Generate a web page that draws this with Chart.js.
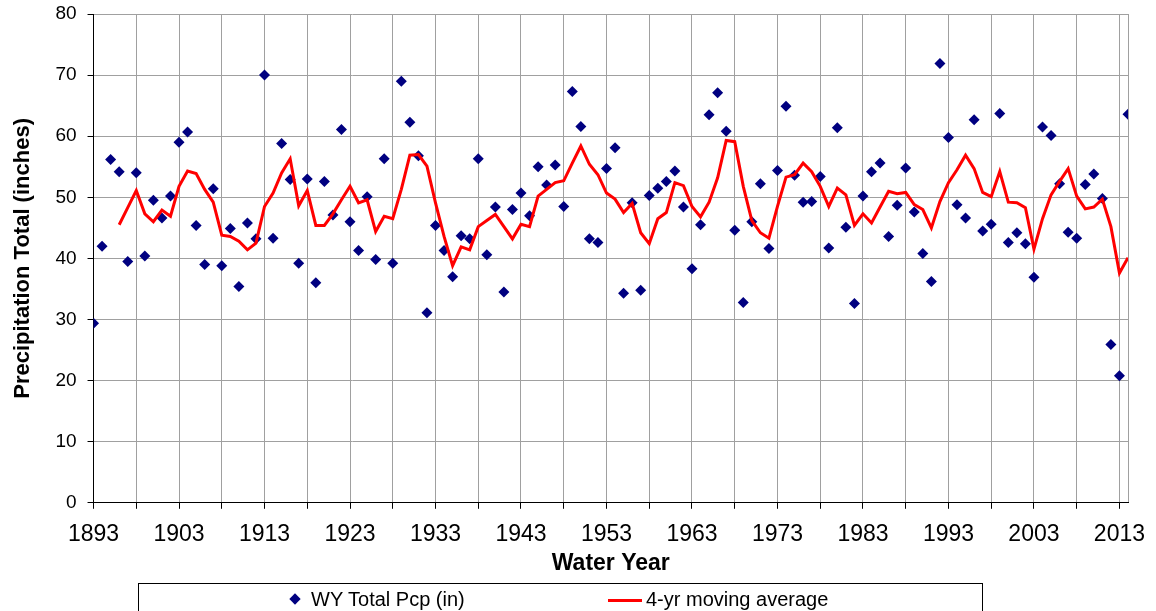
<!DOCTYPE html>
<html>
<head>
<meta charset="utf-8">
<script src="https://cdn.jsdelivr.net/npm/chart.js@4"></script>
<style>
  body { margin: 0; background: #fff; }
  #wrap { position: relative; width: 1156px; height: 611px; overflow: hidden; }
  #legend {
    position: absolute; left: 138px; top: 583px; width: 845px; height: 40px;
    border: 1px solid #000; box-sizing: border-box;
    font-family: "Liberation Sans", Arial, sans-serif; font-size: 20px; color: #000;
  }
  #legend span { position: absolute; }
  .diamond { width: 8px; height: 8px; background: #000080; transform: rotate(45deg); left: 152px; top: 11px; }
  .redline { width: 34px; height: 3px; background: #ff0000; left: 469px; top: 15px; }
  .txt { top: 4px; white-space: nowrap; }
</style>
</head>
<body>
<div id="wrap">
  <canvas id="precipChart" width="1156" height="611"></canvas>
  <div id="legend">
    <span class="diamond"></span><span class="txt" style="left:172px">WY Total Pcp (in)</span>
    <span class="redline"></span><span class="txt" style="left:507px">4-yr moving average</span>
  </div>
</div>
<script>
// water years 1893 - 2014
const years = [
  1893, 1894, 1895, 1896, 1897, 1898, 1899, 1900, 1901, 1902,
  1903, 1904, 1905, 1906, 1907, 1908, 1909, 1910, 1911, 1912,
  1913, 1914, 1915, 1916, 1917, 1918, 1919, 1920, 1921, 1922,
  1923, 1924, 1925, 1926, 1927, 1928, 1929, 1930, 1931, 1932,
  1933, 1934, 1935, 1936, 1937, 1938, 1939, 1940, 1941, 1942,
  1943, 1944, 1945, 1946, 1947, 1948, 1949, 1950, 1951, 1952,
  1953, 1954, 1955, 1956, 1957, 1958, 1959, 1960, 1961, 1962,
  1963, 1964, 1965, 1966, 1967, 1968, 1969, 1970, 1971, 1972,
  1973, 1974, 1975, 1976, 1977, 1978, 1979, 1980, 1981, 1982,
  1983, 1984, 1985, 1986, 1987, 1988, 1989, 1990, 1991, 1992,
  1993, 1994, 1995, 1996, 1997, 1998, 1999, 2000, 2001, 2002,
  2003, 2004, 2005, 2006, 2007, 2008, 2009, 2010, 2011, 2012,
  2013, 2014
];

// WY total precipitation (inches)
const totalPcp = [
  29.4, 42.0, 56.2, 54.2, 39.5, 54.0, 40.4, 49.5, 46.6, 50.2,
  59.0, 60.7, 45.4, 39.0, 51.4, 38.8, 44.9, 35.4, 45.8, 43.2,
  70.0, 43.3, 58.8, 52.9, 39.2, 53.0, 36.0, 52.6, 47.1, 61.1,
  46.0, 41.3, 50.1, 39.8, 56.3, 39.2, 69.0, 62.3, 56.8, 31.1,
  45.4, 41.3, 37.0, 43.7, 43.2, 56.3, 40.6, 48.4, 34.5, 48.0,
  50.7, 47.0, 55.0, 52.0, 55.3, 48.5, 67.3, 61.6, 43.2, 42.6,
  54.7, 58.1, 34.3, 49.1, 34.8, 50.3, 51.5, 52.6, 54.3, 48.4,
  38.3, 45.5, 63.5, 67.1, 60.8, 44.6, 32.8, 46.0, 52.2, 41.6,
  54.4, 64.9, 53.6, 49.2, 49.3, 53.4, 41.7, 61.4, 45.1, 32.6,
  50.2, 54.2, 55.6, 43.6, 48.7, 54.8, 47.6, 40.8, 36.2, 71.9,
  59.8, 48.8, 46.6, 62.7, 44.5, 45.6, 63.7, 42.6, 44.2, 42.4,
  36.9, 61.5, 60.1, 52.2, 44.3, 43.3, 52.1, 53.8, 49.8, 25.9,
  20.8, 63.6
];

// 4-yr moving average (starts 1896)
const movingAvg = [
  null, null, null, 45.5, 48.3, 51.1, 47.3, 46.0, 47.9, 46.9,
  51.8, 54.3, 53.9, 51.3, 49.2, 43.8, 43.6, 42.8, 41.4, 42.5,
  48.5, 50.7, 54.0, 56.3, 48.6, 51.1, 45.4, 45.4, 47.3, 49.6,
  51.8, 49.1, 49.6, 44.4, 46.9, 46.5, 51.3, 56.9, 57.0, 55.1,
  49.1, 43.6, 38.8, 41.9, 41.4, 45.2, 46.2, 47.2, 45.2, 43.2,
  45.6, 45.2, 50.2, 51.3, 52.4, 52.7, 55.6, 58.4, 55.4, 53.7,
  50.7, 49.7, 47.5, 49.0, 44.2, 42.4, 46.5, 47.5, 52.4, 51.9,
  48.5, 46.8, 49.2, 53.2, 59.3, 59.1, 51.8, 46.2, 44.2, 43.3,
  48.5, 53.3, 53.7, 55.6, 54.2, 51.8, 48.5, 51.5, 50.4, 45.4,
  47.3, 45.8, 48.4, 51.0, 50.6, 50.8, 48.8, 48.0, 45.0, 49.3,
  52.4, 54.5, 56.9, 54.7, 50.8, 50.1, 54.2, 49.2, 49.1, 48.3,
  41.5, 46.5, 50.4, 52.6, 54.7, 50.2, 48.1, 48.4, 49.7, 45.2,
  37.6, 40.1
];

// vertical gridlines every 5 years, labels every 10
const gridYears = [1893, 1898, 1903, 1908, 1913, 1918, 1923, 1928, 1933, 1938, 1943, 1948,
  1953, 1958, 1963, 1968, 1973, 1978, 1983, 1988, 1993, 1998, 2003, 2008, 2013, 2014];
const labelYears = [1893, 1903, 1913, 1923, 1933, 1943, 1953, 1963, 1973, 1983, 1993, 2003, 2013];

const fontFamily = '"Liberation Sans", Arial, sans-serif';
const gridGray = '#a0a0a0';

const ctx = document.getElementById('precipChart').getContext('2d');

new Chart(ctx, {
  type: 'scatter',
  data: {
    datasets: [
      {
        label: '4-yr moving average',
        data: years.map((yr, i) => ({ x: yr, y: movingAvg[i] })),
        showLine: true,
        borderColor: '#ff0000',
        borderWidth: 3,
        pointRadius: 0,
        tension: 0,
        spanGaps: false,
        order: 1
      },
      {
        label: 'WY Total Pcp (in)',
        data: years.map((yr, i) => ({ x: yr, y: totalPcp[i] })),
        pointStyle: 'rectRot',
        pointRadius: 5.5,
        backgroundColor: '#000080',
        borderColor: '#000080',
        borderWidth: 0,
        order: 2
      }
    ]
  },
  options: {
    responsive: false,
    animation: false,
    devicePixelRatio: 1,
    layout: { padding: { top: 14, right: 28, bottom: 34, left: 0 } },
    plugins: {
      legend: { display: false },
      tooltip: { enabled: false }
    },
    scales: {
      x: {
        type: 'linear',
        min: 1893,
        max: 2014,
        afterBuildTicks: scale => {
          scale.ticks = gridYears.map(v => ({ value: v }));
        },
        afterFit: scale => {
          scale.paddingLeft = 0;
          scale.paddingRight = 0;
        },
        ticks: {
          autoSkip: false,
          maxRotation: 0,
          padding: 12,
          color: '#000',
          font: { family: fontFamily, size: 23 },
          callback: v => labelYears.includes(v) ? String(v) : ''
        },
        grid: {
          color: gridGray,
          lineWidth: 1,
          tickLength: 6,
          tickColor: c => (c.tick && c.tick.value === 2014) ? 'rgba(0,0,0,0)' : '#000'
        },
        border: { color: '#000', width: 1 },
        title: {
          display: true,
          text: 'Water Year',
          color: '#000',
          font: { family: fontFamily, size: 23, weight: 'bold' },
          padding: { top: -11, bottom: 0 }
        }
      },
      y: {
        min: 0,
        max: 80,
        afterFit: scale => {
          scale.paddingTop = 0;
          scale.paddingBottom = 0;
        },
        ticks: {
          stepSize: 10,
          padding: 11,
          color: '#000',
          font: { family: fontFamily, size: 19 }
        },
        grid: {
          color: gridGray,
          lineWidth: 1,
          tickLength: 6,
          tickColor: '#000'
        },
        border: { color: '#000', width: 1 },
        title: {
          display: true,
          text: 'Precipitation Total (inches)',
          color: '#000',
          font: { family: fontFamily, size: 22, weight: 'bold' },
          padding: { top: 10, bottom: 8 }
        }
      }
    }
  }
});
</script>
</body>
</html>
